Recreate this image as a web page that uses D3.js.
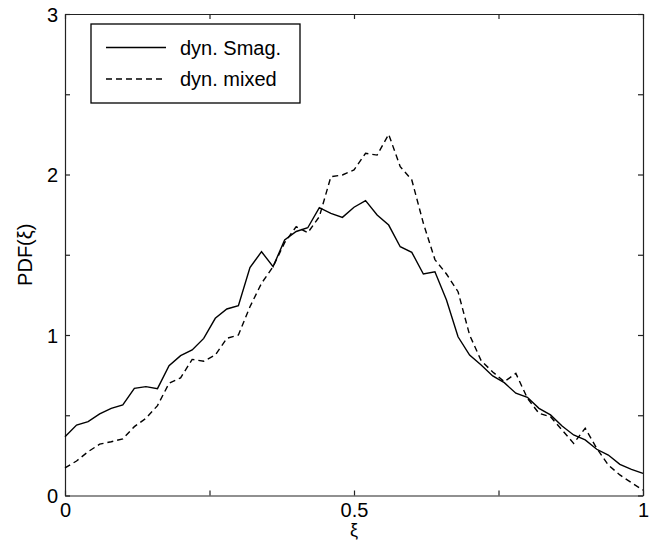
<!DOCTYPE html>
<html>
<head>
<meta charset="utf-8">
<script src="https://cdn.jsdelivr.net/npm/d3@7"></script>
<style>
  body { margin: 0; background: #fff; }
  svg text { font-family: "Liberation Sans", Arial, sans-serif; fill: #000; }
</style>
</head>
<body>
<div id="chart"></div>
<script>
// PDF(xi) data, sampled every 0.02
const xi = d3.range(0, 51).map(i => i / 50);
const smagVals = [
  0.366, 0.439, 0.46, 0.508, 0.543, 0.564, 0.668, 0.678, 0.666, 0.809,
  0.871, 0.907, 0.979, 1.104, 1.162, 1.183, 1.42, 1.519, 1.426, 1.592,
  1.645, 1.668, 1.794, 1.758, 1.733, 1.796, 1.837, 1.748, 1.685, 1.55,
  1.515, 1.38, 1.394, 1.218, 0.989, 0.875, 0.813, 0.745, 0.703, 0.637,
  0.612, 0.543, 0.502, 0.433, 0.377, 0.346, 0.288, 0.252, 0.194, 0.163,
  0.138
];
const mixedVals = [
  0.172, 0.215, 0.273, 0.32, 0.335, 0.353, 0.429, 0.481, 0.56, 0.699,
  0.733, 0.848, 0.837, 0.875, 0.979, 1.0, 1.176, 1.322, 1.426, 1.575,
  1.675, 1.637, 1.737, 1.986, 1.997, 2.028, 2.132, 2.121, 2.25, 2.049,
  1.966, 1.696, 1.47, 1.38, 1.27, 1.0, 0.84, 0.77, 0.709, 0.761,
  0.606, 0.512, 0.491, 0.408, 0.325, 0.419, 0.294, 0.19, 0.128, 0.08,
  0.034
];
const seriesNames = ['dyn. Smag.', 'dyn. mixed'];
const xTicks = [0, 0.25, 0.5, 0.75, 1];
const xTickLabels = ['0', '', '0.5', '', '1'];
const yTicks = [0, 0.5, 1, 1.5, 2, 2.5, 3];
const yTickLabels = ['0', '', '1', '', '2', '', '3'];

const W = 653, H = 542;
const margin = { top: 14, right: 10, bottom: 46.5, left: 65 };
const innerW = W - margin.left - margin.right;
const innerH = H - margin.top - margin.bottom;
const FONT = 20;

const svg = d3.select('#chart').append('svg')
  .attr('width', W)
  .attr('height', H);

const g = svg.append('g')
  .attr('transform', `translate(${margin.left},${margin.top})`);

const x = d3.scaleLinear().domain([0, 1]).range([0, innerW]);
const y = d3.scaleLinear().domain([0, 3]).range([innerH, 0]);

// ticks inward on all four sides
const TICK = 5;
const fmtX = (d, i) => xTickLabels[i];
const fmtY = (d, i) => yTickLabels[i];

const bottomAx = g.append('g')
  .attr('transform', `translate(0,${innerH})`)
  .call(d3.axisBottom(x).tickValues(xTicks).tickFormat(fmtX).tickSizeInner(-TICK).tickSizeOuter(0).tickPadding(7));
const topAx = g.append('g')
  .call(d3.axisTop(x).tickValues(xTicks).tickFormat('').tickSizeInner(-TICK).tickSizeOuter(0));
const leftAx = g.append('g')
  .call(d3.axisLeft(y).tickValues(yTicks).tickFormat(fmtY).tickSizeInner(-TICK).tickSizeOuter(0).tickPadding(7));
const rightAx = g.append('g')
  .attr('transform', `translate(${innerW},0)`)
  .call(d3.axisRight(y).tickValues(yTicks).tickFormat('').tickSizeInner(-TICK).tickSizeOuter(0));

[bottomAx, topAx, leftAx, rightAx].forEach(ax => {
  ax.select('.domain').attr('stroke', '#222').attr('stroke-width', 1.2);
  ax.selectAll('.tick line').attr('stroke', '#222').attr('stroke-width', 1.2);
  ax.selectAll('.tick text').attr('font-size', FONT).attr('fill', '#000')
    .attr('font-family', '"Liberation Sans", Arial, sans-serif');
});
leftAx.selectAll('.tick text').attr('dy', '0.36em');
bottomAx.selectAll('.tick text').attr('dy', '0.71em');

// curves
const line = d3.line()
  .x((d, i) => x(xi[i]))
  .y(d => y(d));

g.append('path')
  .datum(smagVals)
  .attr('fill', 'none')
  .attr('stroke', '#000')
  .attr('stroke-width', 1.4)
  .attr('d', line);

g.append('path')
  .datum(mixedVals)
  .attr('fill', 'none')
  .attr('stroke', '#000')
  .attr('stroke-width', 1.4)
  .attr('stroke-dasharray', '6,4')
  .attr('d', line);

// axis titles
svg.append('text')
  .attr('x', margin.left + x(0.5))
  .attr('y', 536)
  .attr('text-anchor', 'middle')
  .attr('font-size', 18)
  .text('ξ');

svg.append('text')
  .attr('transform', `translate(32,${margin.top + y(1.5)}) rotate(-90)`)
  .attr('text-anchor', 'middle')
  .attr('font-size', FONT)
  .text('PDF(ξ)');

// legend
const legend = svg.append('g').attr('transform', 'translate(91,24)');
legend.append('rect')
  .attr('width', 209)
  .attr('height', 79)
  .attr('fill', '#fff')
  .attr('stroke', '#000')
  .attr('stroke-width', 1.3);

seriesNames.forEach((name, i) => {
  const ly = 23.5 + i * 31.5;
  legend.append('line')
    .attr('x1', 15).attr('x2', 75)
    .attr('y1', ly).attr('y2', ly)
    .attr('stroke', '#000')
    .attr('stroke-width', 1.4)
    .attr('stroke-dasharray', i === 1 ? '6,4' : null);
  legend.append('text')
    .attr('x', 89)
    .attr('y', ly)
    .attr('dy', '0.35em')
    .attr('font-size', FONT)
    .text(name);
});
</script>
</body>
</html>
